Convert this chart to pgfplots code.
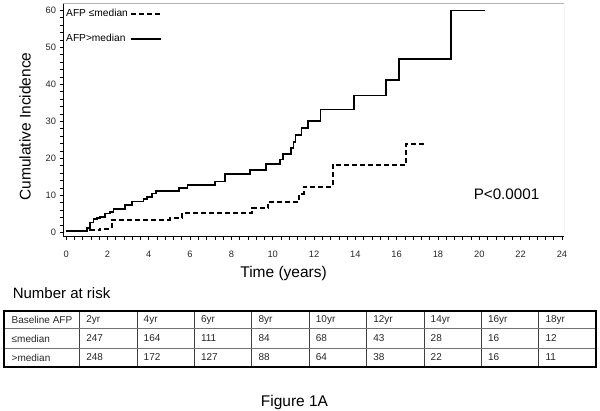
\documentclass[border=0pt]{standalone}
\usepackage{pgfplots}
\pgfplotsset{compat=1.18}
\usepackage{fontspec}
\setmainfont{Liberation Sans}
\begin{document}
\begin{tikzpicture}[x=1pt,y=1pt]
\path[use as bounding box] (0,0) rectangle (600,410);
\begin{axis}[
  at={(63pt,173.3pt)}, anchor=south west,
  scale only axis, width=501pt, height=233pt,
  xmin=-0.15, xmax=24.1, ymin=-1.2, ymax=61.8,
  axis x line*=bottom, axis y line*=left,
  axis line style={line width=0.8pt, -},
  xtick={0,2,...,24}, ytick={0,10,...,60},
  minor x tick num=4, minor y tick num=4,
  tick align=outside, major tick length=3.5pt, minor tick length=3pt,
  tick style={black, line width=0.6pt},
  ticklabel style={font=\fontsize{9.3}{11}\selectfont, text=black!85},
  xticklabel style={yshift=-7pt},
  /pgf/number format/assume math mode=true,
  legend style={at={(rel axis cs:0,1)}, anchor=north west, draw=none, fill=none,
    font=\fontsize{10.2}{12}\selectfont, row sep=12pt, inner sep=1pt, yshift=-2.5pt},
  legend plot pos=right, legend cell align=left,
  legend image code/.code={\draw[#1] (0pt,0pt) -- (30pt,0pt);},
]
\draw[gray!60, line width=0.8pt] (rel axis cs:0,1) -- (rel axis cs:1,1) -- (rel axis cs:1,0);
\addplot[const plot, black, line width=2pt, dash pattern=on 5pt off 3pt] coordinates {
(0,0.4) (1.16,0.5) (1.64,0.9) (2.03,1.3) (2.2,3.3) (5.03,3.8) (5.6,5.1) (8.98,6.5) (9.79,8.3) (11.27,10.3) (11.5,12.3) (12.9,18.2) (16.45,23.9) (17.45,23.9)};
\addlegendentry{AFP ≤median}
\addplot[const plot, black, line width=1.7pt] coordinates {
(0,0.4) (1.0,1.1) (1.16,2.6) (1.32,3.6) (1.48,3.9) (1.64,4.2) (1.89,5.1) (2.13,5.5) (2.3,6.3) (2.85,7.4) (3.2,8.3) (3.74,9.0) (3.9,9.6) (4.15,10.5) (4.35,11.1) (5.47,11.9) (5.87,12.8) (7.2,13.7) (7.7,15.8) (8.9,16.8) (9.66,18.5) (10.35,19.7) (10.5,21.2) (10.9,22.7) (11.0,24.5) (11.1,26.3) (11.4,28.1) (11.72,30.1) (12.32,33.2) (13.93,37.0) (15.5,41.2) (16.1,46.9) (18.63,60.0) (20.3,60.0)};
\addlegendentry{AFP>median}
\end{axis}
% labels
\node[rotate=90, font=\fontsize{15.5}{18}\selectfont] at (25,283.5) {Cumulative Incidence};
\node[font=\fontsize{15.5}{18}\selectfont] at (283.6,137) {Time (years)};
\node[font=\fontsize{15.2}{18}\selectfont] at (506.5,215.7) {P<0.0001};
\node[font=\fontsize{15}{18}\selectfont, anchor=west, inner sep=0pt] at (12.6,117) {Number at risk};
\node[font=\fontsize{15.5}{18}\selectfont, anchor=base, inner sep=0pt] at (294.5,4) {Figure 1A};
% table
\foreach \xx in {79.6,137,194.4,251.8,309.2,366.6,424,481.4,538.8} {\draw[black!75, line width=1pt] (\xx,43) -- (\xx,99.3);}
\draw[black!55, line width=1pt] (4,81) -- (596,81);
\draw[black!55, line width=1pt] (4,62) -- (596,62);
\draw[black, line width=1.8pt] (4,43) rectangle (596,99.3);
\begin{scope}[every node/.style={font=\fontsize{10}{12}\selectfont, anchor=west, inner sep=0pt, text=black!85}]
\node at (11.5,90.1) {Baseline AFP};
\node at (11.5,71.5) {≤median};
\node at (11.5,52.5) {>median};
\foreach \lab/\a/\b [count=\i from 0] in {2yr/247/248,4yr/164/172,6yr/111/127,8yr/84/88,10yr/68/64,12yr/43/38,14yr/28/22,16yr/16/16,18yr/12/11} {
  \pgfmathsetmacro{\xp}{79.6+57.4*\i+6.5}
  \node at (\xp,90.1) {\lab};
  \node at (\xp,71.5) {\a};
  \node at (\xp,52.5) {\b};
}
\end{scope}
\end{tikzpicture}
\end{document}
